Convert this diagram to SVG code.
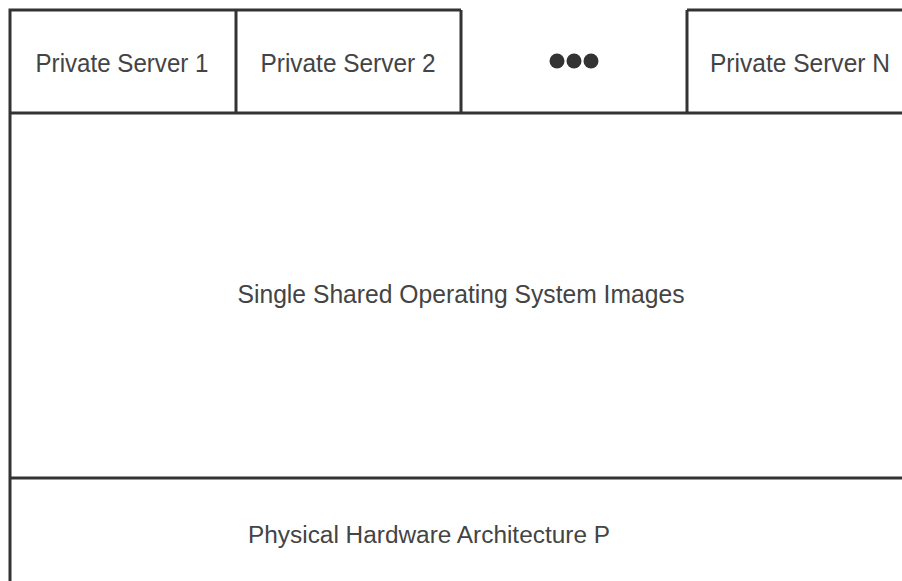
<svg xmlns="http://www.w3.org/2000/svg" width="902" height="581" viewBox="0 0 902 581">
<style>
.ln{stroke:#333;stroke-width:3;fill:none}
.t{font-family:"Liberation Sans",Arial,sans-serif;fill:#444;text-anchor:middle}
</style>
<rect width="902" height="581" fill="#fff"/>
<g id="frame">
<path class="ln" d="M10,581 V10 H461 M687,10 H905 M10,113 H905 M10,478 H905"/>
</g>
<g id="ps1">
<path class="ln" d="M236,10 V113"/>
<text class="t" x="122" y="72" font-size="25" textLength="173" lengthAdjust="spacingAndGlyphs">Private Server 1</text>
</g>
<g id="ps2">
<path class="ln" d="M461,10 V113"/>
<text class="t" x="348" y="72" font-size="25" textLength="175" lengthAdjust="spacingAndGlyphs">Private Server 2</text>
</g>
<g id="dots">
<circle cx="557" cy="61" r="7.5" fill="#333"/>
<circle cx="574" cy="61" r="7.5" fill="#333"/>
<circle cx="591" cy="61" r="7.5" fill="#333"/>
</g>
<g id="psn">
<path class="ln" d="M687,10 V113"/>
<text class="t" x="800" y="72" font-size="25" textLength="180" lengthAdjust="spacingAndGlyphs">Private Server N</text>
</g>
<g id="os">
<text class="t" x="461" y="303" font-size="25" textLength="447" lengthAdjust="spacingAndGlyphs">Single Shared Operating System Images</text>
</g>
<g id="hw">
<text class="t" x="429" y="543" font-size="23" textLength="362" lengthAdjust="spacingAndGlyphs">Physical Hardware Architecture P</text>
</g>
<g id="connectors"></g>
</svg>
